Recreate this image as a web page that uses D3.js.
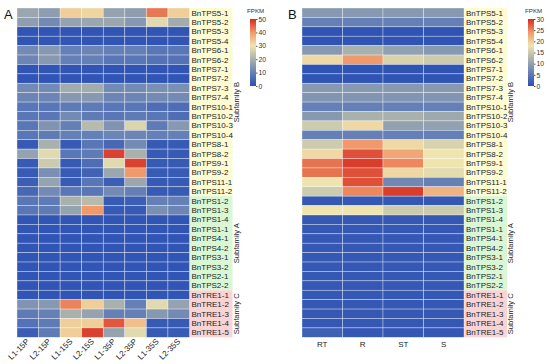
<!DOCTYPE html>
<html>
<head>
<meta charset="utf-8">
<script src="https://cdn.jsdelivr.net/npm/d3@7"></script>
<style>
  body { margin: 0; background: #fff; }
  svg { font-family: Arial, "Liberation Sans", sans-serif; }
</style>
</head>
<body>
<svg id="chart" width="550" height="364"></svg>
<script>
var genes = ["BnTPS5-1","BnTPS5-2","BnTPS5-3","BnTPS5-4","BnTPS6-1","BnTPS6-2","BnTPS7-1","BnTPS7-2",
  "BnTPS7-3","BnTPS7-4","BnTPS10-1","BnTPS10-2","BnTPS10-3","BnTPS10-4","BnTPS8-1","BnTPS8-2",
  "BnTPS9-1","BnTPS9-2","BnTPS11-1","BnTPS11-2",
  "BnTPS1-2","BnTPS1-3","BnTPS1-4","BnTPS1-1","BnTPS4-1","BnTPS4-2","BnTPS3-1","BnTPS3-2","BnTPS2-1","BnTPS2-2",
  "BnTRE1-1","BnTRE1-2","BnTRE1-3","BnTRE1-4","BnTRE1-5"]

var subfamilies = [
  {name: "Subfamily B", first: 0, last: 19, fill: "#fffbd2"},
  {name: "Subfamily A", first: 20, last: 29, fill: "#d9f7d4"},
  {name: "Subfamily C", first: 30, last: 34, fill: "#fad4d4"}
]

var columnsA = ["L1-15P","L2-15P","L1-15S","L2-15S","L1-35P","L2-35P","L1-35S","L2-35S"]
var columnsB = ["RT","R","ST","S"]

var ticksA = [0,10,20,30,40,50]
var ticksB = [0,5,10,15,20,25,30]

// FPKM, rows follow genes
var valuesA = [
  [18,16,33,32,17,16,43,33],
  [16,12,17,18,18,15,28,19],
  [1,1,1,1,1,1,1,1],
  [1,1,1,1,1,1,1,1],
  [12,15,10,11,10,10,8,8],
  [11,15,10,10,8,8,7,7],
  [1,1,1,1,1,1,1,1],
  [1,1,1,1,1,1,1,1],
  [12,12,19,19,12,12,13,13],
  [11,11,15,15,11,11,12,12],
  [8,8,9,9,8,8,6,6],
  [8,8,12,9,8,9,8,6],
  [8,14,10,22,14,27,9,15],
  [8,9,10,10,11,11,10,10],
  [2,20,2,8,5,12,2,2],
  [17,28,8,9,48,20,2,2],
  [2,25,2,6,28,48,2,2],
  [2,13,2,4,18,40,2,2],
  [3,17,2,8,3,18,2,2],
  [5,12,8,8,12,10,2,2],
  [8,9,20,22,2,3,10,10],
  [8,9,17,40,2,2,13,11],
  [1,1,1,1,1,1,1,1],
  [1,1,1,1,1,1,1,1],
  [1,1,1,1,1,1,1,1],
  [1,1,1,1,1,1,1,1],
  [1,1,1,1,1,1,1,1],
  [1,1,1,1,1,1,1,1],
  [1,1,1,1,1,1,1,1],
  [1,1,1,1,1,1,1,1],
  [1,1,1,1,1,1,1,1],
  [14,15,42,33,20,10,28,17],
  [9,10,20,17,10,10,15,12],
  [7,9,33,33,46,35,2,2],
  [3,9,33,48,17,28,2,2]
]

var valuesB = [
  [9,9,9,9],
  [6,6,6,6],
  [0.5,0.5,0.5,0.5],
  [0.5,0.5,0.5,0.5],
  [9,12,10,9],
  [19,24,16,15],
  [0.5,0.5,0.5,0.5],
  [0.5,0.5,0.5,0.5],
  [9,9,9,9],
  [8.5,8.5,8.5,8.5],
  [6,6,6,6],
  [9,12,12,11],
  [15,19,10,10],
  [6,6,6,6],
  [15,24,19,16],
  [19,28,23,18],
  [26,29,25,18],
  [26,28,19,17],
  [18,28,7,6],
  [15,25,29,22],
  [1,1,1,1],
  [18,18,15,15],
  [1,1,1,1],
  [1,1,1,1],
  [1,1,1,1],
  [1,1,1,1],
  [1,1,1,1],
  [1,1,1,1],
  [1,1,1,1],
  [1,1,1,1],
  [1,1,1,1],
  [1,1,1,1],
  [1,1,1,1],
  [1,1,1,1],
  [2,1,1,1]
]

var palette = ["#2b50b4","#6580b6","#a9b1ac","#efe4ae","#f0996a","#d62b20"]

var svg = d3.select("#chart")

var y = d3.scaleBand().domain(genes).range([8, 337.3])

function drawPanel(opt){
  var g = svg.append("g")
  var x = d3.scaleBand().domain(opt.columns).range([opt.left, opt.right])
  var colour = d3.scaleLinear()
    .domain(d3.range(palette.length).map(function(i){ return opt.max*i/(palette.length-1) }))
    .range(palette)
    .clamp(true)

  // label backgrounds
  g.selectAll("rect.bg")
    .data(subfamilies)
    .enter().append("rect")
    .attr("x", opt.right)
    .attr("y", function(d){ return y(genes[d.first]) })
    .attr("width", 43)
    .attr("height", function(d){ return y(genes[d.last]) + y.bandwidth() - y(genes[d.first]) })
    .attr("fill", function(d){ return d.fill })

  var cells = []
  opt.values.forEach(function(row, i){
    row.forEach(function(v, j){
      cells.push({gene: genes[i], col: opt.columns[j], value: v})
    })
  })

  g.selectAll("rect.cell")
    .data(cells)
    .enter().append("rect")
    .attr("class", "cell")
    .attr("x", function(d){ return x(d.col) })
    .attr("y", function(d){ return y(d.gene) })
    .attr("width", x.bandwidth())
    .attr("height", y.bandwidth())
    .attr("fill", function(d){ return colour(d.value) })
    .attr("stroke", "#ffffff")
    .attr("stroke-opacity", 0.55)
    .attr("stroke-width", 0.6)

  // gene labels
  g.selectAll("text.gene")
    .data(genes)
    .enter().append("text")
    .attr("x", opt.right + 2)
    .attr("y", function(d){ return y(d) + y.bandwidth()/2 })
    .attr("dy", "0.35em")
    .attr("font-size", 8)
    .attr("fill", "#222")
    .text(function(d){ return d })

  // subfamily labels
  g.selectAll("text.sub")
    .data(subfamilies)
    .enter().append("text")
    .attr("transform", function(d){
      var cy = (y(genes[d.first]) + y(genes[d.last]) + y.bandwidth())/2
      return "translate(" + (opt.right + 49) + "," + cy + ") rotate(-90)"
    })
    .attr("text-anchor", "middle")
    .attr("font-size", 7.6)
    .attr("fill", "#222")
    .text(function(d){ return d.name })

  // column labels
  var colLabels = g.selectAll("text.col")
    .data(opt.columns)
    .enter().append("text")
    .attr("font-size", 8)
    .attr("fill", "#222")
    .text(function(d){ return d })

  if (opt.rotate) {
    colLabels
      .attr("text-anchor", "end")
      .attr("transform", function(d){
        return "translate(" + (x(d) + x.bandwidth()/2 + 2) + ",342) rotate(-45)"
      })
  } else {
    colLabels
      .attr("text-anchor", "middle")
      .attr("x", function(d){ return x(d) + x.bandwidth()/2 })
      .attr("y", 347)
  }

  // panel letter
  svg.append("text")
    .attr("x", opt.letterX)
    .attr("y", 18.5)
    .attr("font-size", 13)
    .attr("fill", "#111")
    .text(opt.letter)

  // legend
  var lg = svg.append("g")
  var ly = d3.scaleLinear().domain([0, opt.max]).range([86, 19])
  var gradId = "grad" + opt.letter
  var grad = svg.append("defs").append("linearGradient")
    .attr("id", gradId)
    .attr("x1", 0).attr("y1", 1).attr("x2", 0).attr("y2", 0)
  palette.forEach(function(c, i){
    grad.append("stop").attr("offset", i/(palette.length-1)).attr("stop-color", c)
  })
  lg.append("rect")
    .attr("x", opt.legendX)
    .attr("y", ly(opt.max))
    .attr("width", 6)
    .attr("height", ly(0) - ly(opt.max))
    .attr("fill", "url(#" + gradId + ")")

  var axis = lg.append("g")
    .attr("transform", "translate(" + (opt.legendX + 6) + ",0)")
    .call(d3.axisRight(ly).tickValues(opt.ticks).tickSize(1.5).tickPadding(1))
  axis.select(".domain").remove()
  axis.selectAll("text").attr("font-size", 6.8).attr("fill", "#333")
    .style("font-family", "Arial, 'Liberation Sans', sans-serif")
  axis.selectAll("line").attr("stroke", "#555")

  lg.append("text")
    .attr("x", opt.legendX - 3)
    .attr("y", 13)
    .attr("font-size", 6.2)
    .attr("fill", "#333")
    .text("FPKM")
}

drawPanel({letter: "A", letterX: 4, columns: columnsA, values: valuesA, max: 50, ticks: ticksA,
  left: 17, right: 189.5, rotate: true, legendX: 250})
drawPanel({letter: "B", letterX: 288, columns: columnsB, values: valuesB, max: 30, ticks: ticksB,
  left: 302, right: 464, rotate: false, legendX: 528})
</script>
</body>
</html>
